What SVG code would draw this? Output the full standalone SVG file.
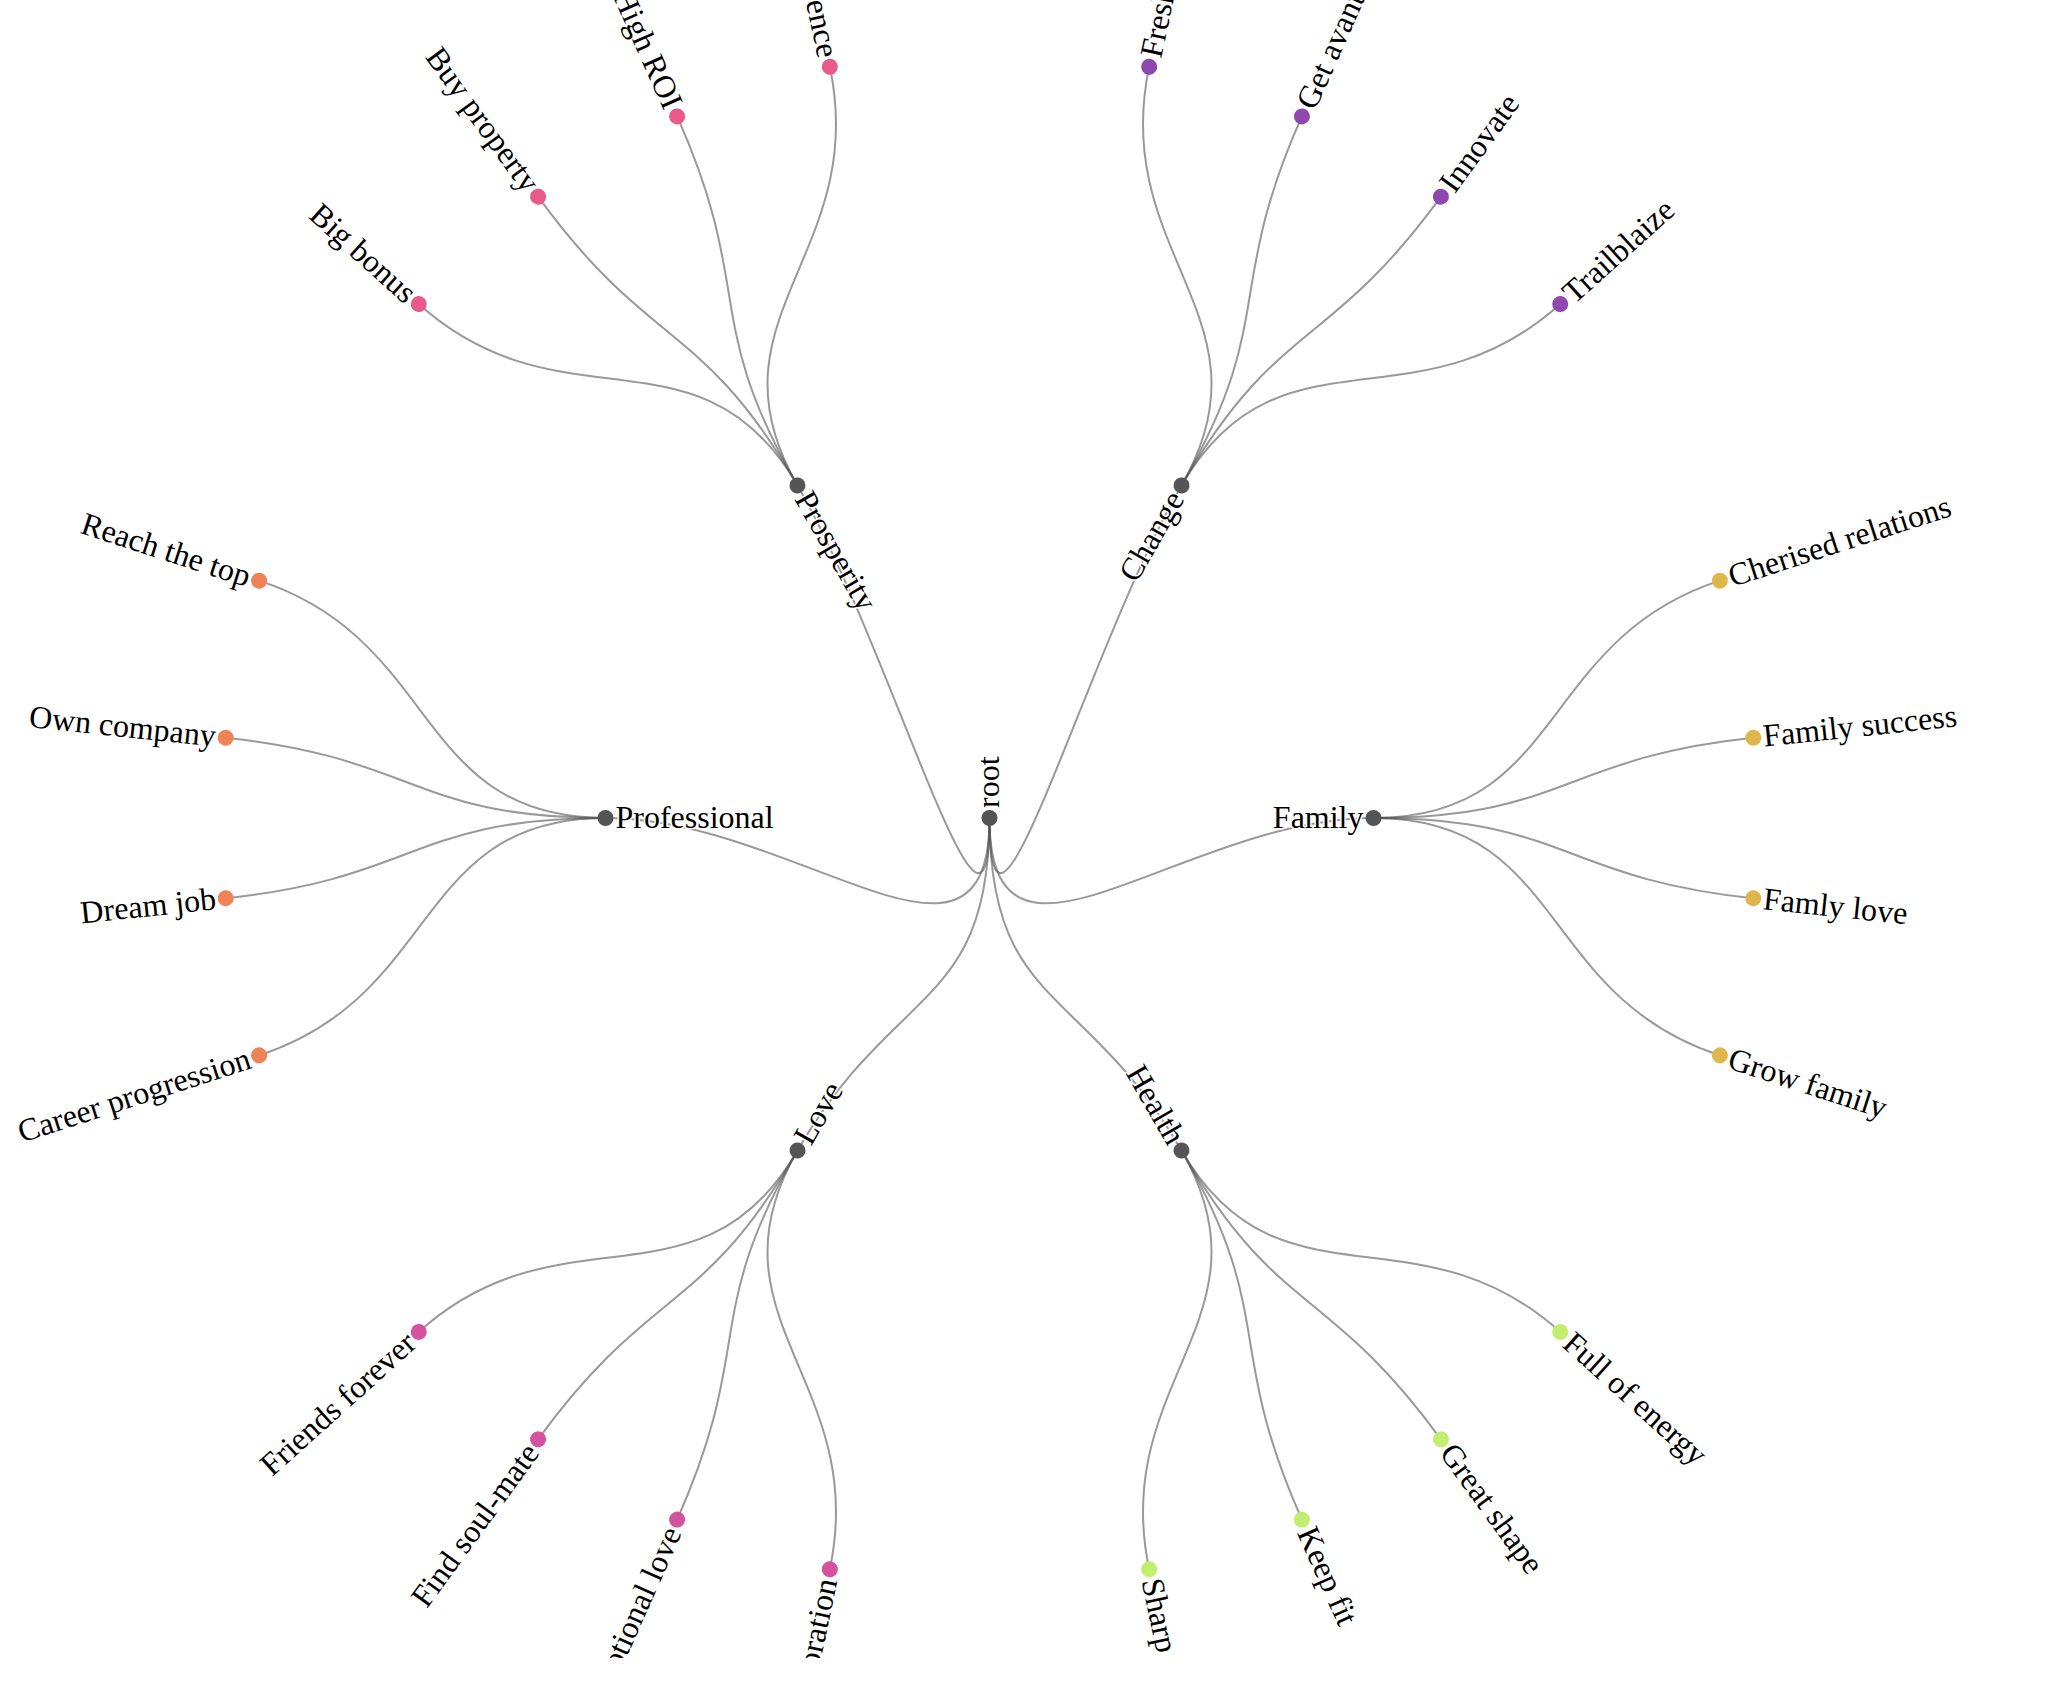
<svg xmlns="http://www.w3.org/2000/svg" width="2068" height="1682" viewBox="0 0 2068 1682">
<style>
.link{fill:none;stroke:#555;stroke-opacity:0.6;stroke-width:2}
text{font-family:"Liberation Serif","Times New Roman",serif;font-size:32px;fill:#000;stroke:#fff;stroke-width:3;stroke-linejoin:round;paint-order:stroke}
.s{text-anchor:start}
.e{text-anchor:end}
.inner{fill:#555}
.fam{fill:#deb64b}
.hea{fill:#c2ee70}
.lov{fill:#d4529f}
.pro{fill:#ee8356}
.pros{fill:#e85a87}
.chg{fill:#8e48b0}
</style>
<defs>
<clipPath id="vp"><rect x="0" y="0" width="2068" height="1658"/></clipPath>
</defs>
<rect x="0" y="0" width="2068" height="1682" fill="#fff"/>
<g clip-path="url(#vp)">
<g transform="translate(989.5,818)">
<g id="connectors">
<path class="link" d="M0,0C0,192 192,0 384,0"/>
<path class="link" d="M0,0C0,192 96,166.277 192,332.554"/>
<path class="link" d="M0,0C0,192 -96,166.277 -192,332.554"/>
<path class="link" d="M0,0C0,192 -192,0 -384,0"/>
<path class="link" d="M0,0C0,192 -96,-166.277 -192,-332.554"/>
<path class="link" d="M0,0C0,192 96,-166.277 192,-332.554"/>
<path class="link" d="M384,0C576,0 547.81,-177.99 730.41,-237.33"/>
<path class="link" d="M384,0C576,0 572.84,-60.21 763.79,-80.28"/>
<path class="link" d="M384,0C576,0 572.84,60.21 763.79,80.28"/>
<path class="link" d="M384,0C576,0 547.81,177.99 730.41,237.33"/>
<path class="link" d="M192,332.554C288,498.831 428.05,385.42 570.74,513.89"/>
<path class="link" d="M192,332.554C288,498.831 338.56,465.99 451.42,621.33"/>
<path class="link" d="M192,332.554C288,498.831 234.28,526.20 312.37,701.60"/>
<path class="link" d="M192,332.554C288,498.831 119.76,563.41 159.68,751.22"/>
<path class="link" d="M-192,332.554C-288,498.831 -119.76,563.41 -159.68,751.22"/>
<path class="link" d="M-192,332.554C-288,498.831 -234.28,526.20 -312.37,701.60"/>
<path class="link" d="M-192,332.554C-288,498.831 -338.56,465.99 -451.42,621.33"/>
<path class="link" d="M-192,332.554C-288,498.831 -428.05,385.42 -570.74,513.89"/>
<path class="link" d="M-384,0C-576,0 -547.81,177.99 -730.41,237.33"/>
<path class="link" d="M-384,0C-576,0 -572.84,60.21 -763.79,80.28"/>
<path class="link" d="M-384,0C-576,0 -572.84,-60.21 -763.79,-80.28"/>
<path class="link" d="M-384,0C-576,0 -547.81,-177.99 -730.41,-237.33"/>
<path class="link" d="M-192,-332.554C-288,-498.831 -428.05,-385.42 -570.74,-513.89"/>
<path class="link" d="M-192,-332.554C-288,-498.831 -338.56,-465.99 -451.42,-621.33"/>
<path class="link" d="M-192,-332.554C-288,-498.831 -234.28,-526.20 -312.37,-701.60"/>
<path class="link" d="M-192,-332.554C-288,-498.831 -119.76,-563.41 -159.68,-751.22"/>
<path class="link" d="M192,-332.554C288,-498.831 119.76,-563.41 159.68,-751.22"/>
<path class="link" d="M192,-332.554C288,-498.831 234.28,-526.20 312.37,-701.60"/>
<path class="link" d="M192,-332.554C288,-498.831 338.56,-465.99 451.42,-621.33"/>
<path class="link" d="M192,-332.554C288,-498.831 428.05,-385.42 570.74,-513.89"/>
</g>
<g id="root" transform="rotate(-90)"><circle r="8" class="inner"/><text class="s" x="10" dy="0.31em">root</text></g>
<g id="family" transform="translate(384,0)"><circle r="8" class="inner"/><text class="e" x="-10" dy="0.31em">Family</text></g>
<g id="health" transform="translate(192,332.554) rotate(60)"><circle r="8" class="inner"/><text class="e" x="-10" dy="0.31em">Health</text></g>
<g id="change" transform="translate(192,-332.554) rotate(-60)"><circle r="8" class="inner"/><text class="e" x="-10" dy="0.31em">Change</text></g>
<g id="love" transform="translate(-192,332.554) rotate(-60)"><circle r="8" class="inner"/><text class="s" x="10" dy="0.31em">Love</text></g>
<g id="professional" transform="translate(-384,0)"><circle r="8" class="inner"/><text class="s" x="10" dy="0.31em">Professional</text></g>
<g id="prosperity" transform="translate(-192,-332.554) rotate(60)"><circle r="8" class="inner"/><text class="s" x="10" dy="0.31em">Prosperity</text></g>

<g id="cherised-relations" transform="translate(730.41,-237.33) rotate(-18)"><circle r="8" class="fam"/><text class="s" x="10" dy="0.31em">Cherised relations</text></g>
<g id="family-success" transform="translate(763.79,-80.28) rotate(-6)"><circle r="8" class="fam"/><text class="s" x="10" dy="0.31em">Family success</text></g>
<g id="famly-love" transform="translate(763.79,80.28) rotate(6)"><circle r="8" class="fam"/><text class="s" x="10" dy="0.31em">Famly love</text></g>
<g id="grow-family" transform="translate(730.41,237.33) rotate(18)"><circle r="8" class="fam"/><text class="s" x="10" dy="0.31em">Grow family</text></g>

<g id="full-of-energy" transform="translate(570.74,513.89) rotate(42)"><circle r="8" class="hea"/><text class="s" x="10" dy="0.31em">Full of energy</text></g>
<g id="great-shape" transform="translate(451.42,621.33) rotate(54)"><circle r="8" class="hea"/><text class="s" x="10" dy="0.31em">Great shape</text></g>
<g id="keep-fit" transform="translate(312.37,701.60) rotate(66)"><circle r="8" class="hea"/><text class="s" x="10" dy="0.31em">Keep fit</text></g>
<g id="sharp" transform="translate(159.68,751.22) rotate(78)"><circle r="8" class="hea"/><text class="s" x="10" dy="0.31em">Sharp</text></g>

<g id="love-1" transform="translate(-159.68,751.22) rotate(-78)"><circle r="8" class="lov"/><text class="e" x="-10" dy="0.31em">oration</text></g>
<g id="love-2" transform="translate(-312.37,701.60) rotate(-66)"><circle r="8" class="lov"/><text class="e" x="-10" dy="0.31em">otional love</text></g>
<g id="find-soul-mate" transform="translate(-451.42,621.33) rotate(-54)"><circle r="8" class="lov"/><text class="e" x="-10" dy="0.31em">Find soul-mate</text></g>
<g id="friends-forever" transform="translate(-570.74,513.89) rotate(-42)"><circle r="8" class="lov"/><text class="e" x="-10" dy="0.31em">Friends forever</text></g>

<g id="career-progression" transform="translate(-730.41,237.33) rotate(-18)"><circle r="8" class="pro"/><text class="e" x="-10" dy="0.31em">Career progression</text></g>
<g id="dream-job" transform="translate(-763.79,80.28) rotate(-6)"><circle r="8" class="pro"/><text class="e" x="-10" dy="0.31em">Dream job</text></g>
<g id="own-company" transform="translate(-763.79,-80.28) rotate(6)"><circle r="8" class="pro"/><text class="e" x="-10" dy="0.31em">Own company</text></g>
<g id="reach-the-top" transform="translate(-730.41,-237.33) rotate(18)"><circle r="8" class="pro"/><text class="e" x="-10" dy="0.31em">Reach the top</text></g>

<g id="big-bonus" transform="translate(-570.74,-513.89) rotate(42)"><circle r="8" class="pros"/><text class="e" x="-10" dy="0.31em">Big bonus</text></g>
<g id="buy-property" transform="translate(-451.42,-621.33) rotate(54)"><circle r="8" class="pros"/><text class="e" x="-10" dy="0.31em">Buy property</text></g>
<g id="high-roi" transform="translate(-312.37,-701.60) rotate(66)"><circle r="8" class="pros"/><text class="e" x="-10" dy="0.31em">High ROI</text></g>
<g id="prosperity-4" transform="translate(-159.68,-751.22) rotate(78)"><circle r="8" class="pros"/><text class="e" x="-10" dy="0.31em">ence</text></g>

<g id="fresh" transform="translate(159.68,-751.22) rotate(-78)"><circle r="8" class="chg"/><text class="s" x="10" dy="0.31em">Fresh</text></g>
<g id="get-avant" transform="translate(312.37,-701.60) rotate(-66)"><circle r="8" class="chg"/><text class="s" x="10" dy="0.31em">Get avant</text></g>
<g id="innovate" transform="translate(451.42,-621.33) rotate(-54)"><circle r="8" class="chg"/><text class="s" x="10" dy="0.31em">Innovate</text></g>
<g id="trailblaize" transform="translate(570.74,-513.89) rotate(-42)"><circle r="8" class="chg"/><text class="s" x="10" dy="0.31em">Trailblaize</text></g>
</g>
</g>
</svg>
